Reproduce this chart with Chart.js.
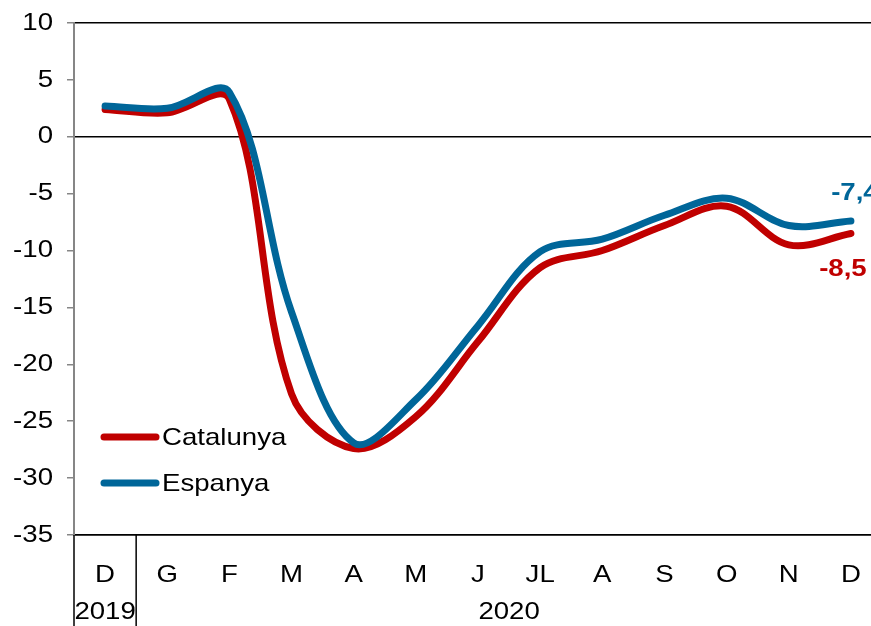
<!DOCTYPE html>
<html>
<head>
<meta charset="utf-8">
<script src="https://cdn.jsdelivr.net/npm/chart.js@4.4.1/dist/chart.umd.min.js"></script>
<style>
    html, body { margin: 0; padding: 0; background: #fff; overflow: hidden; }
    #wrap { width: 871px; height: 626px; overflow: hidden; }
</style>
</head>
<body>
<div id="wrap"><canvas id="chart" width="882" height="626"></canvas></div>
<script>
// categories: months, with the year row under them
var months = ["D", "G", "F", "M", "A", "M", "J", "JL", "A", "S", "O", "N", "D"];
var years = [
    {label: "2019", from: 0, to: 0},
    {label: "2020", from: 1, to: 12}
];

// series
var catalunya = [2.4, 2.1, 3.3, -22.6, -27.4, -24.6, -18.0, -11.5, -10.0, -7.8, -6.1, -9.5, -8.5];
var espanya = [2.7, 2.5, 3.9, -15.4, -26.9, -23.1, -16.6, -10.1, -9.0, -6.9, -5.4, -7.8, -7.4];

var yMin = -35, yMax = 10, yStep = 5;
var blackLines = [10, 0, -35];

var red = "#C00000";
var blue = "#006699";
var textStretch = 1.15; // the source text is a little wider than Arial

Chart.defaults.font.family = "'Liberation Sans', Arial, sans-serif";
Chart.defaults.font.size = 24;
Chart.defaults.color = "#000";

// widen every text drawn on the canvas around its anchor point
var wideText = {
    id: 'wideText',
    beforeInit: function (chart) {
        var c = chart.ctx;
        var orig = c.fillText.bind(c);
        c.fillText = function (text, x, y, maxWidth) {
            c.save();
            c.translate(x, y);
            c.scale(textStretch, 1);
            if (maxWidth !== undefined) {
                orig(text, 0, 0, maxWidth / textStretch);
            } else {
                orig(text, 0, 0);
            }
            c.restore();
        };
    }
};

// year row and separators under the month labels
var yearRow = {
    id: 'yearRow',
    afterDraw: function (chart) {
        var ctx = chart.ctx;
        var x = chart.scales.x;
        var area = chart.chartArea;
        var half = (x.getPixelForValue(1) - x.getPixelForValue(0)) / 2;
        ctx.save();
        ctx.strokeStyle = "#000";
        ctx.lineWidth = 1.5;
        ctx.fillStyle = "#000";
        ctx.font = "24px 'Liberation Sans', Arial, sans-serif";
        ctx.textAlign = "center";
        ctx.textBaseline = "middle";
        years.forEach(function (g) {
            var left = x.getPixelForValue(g.from) - half;
            var right = x.getPixelForValue(g.to) + half;
            ctx.beginPath();
            ctx.moveTo(left, area.bottom);
            ctx.lineTo(left, chart.height);
            ctx.stroke();
            ctx.fillText(g.label, (left + right) / 2, 612);
        });
        ctx.restore();
    }
};

// legend inside the plot, bottom left
var innerLegend = {
    id: 'innerLegend',
    afterDatasetsDraw: function (chart) {
        var ctx = chart.ctx;
        ctx.save();
        ctx.lineCap = "round";
        ctx.font = "24px 'Liberation Sans', Arial, sans-serif";
        ctx.textBaseline = "middle";
        ctx.fillStyle = "#000";
        chart.data.datasets.forEach(function (ds, i) {
            var y = 437 + i * 46;
            ctx.strokeStyle = ds.borderColor;
            ctx.lineWidth = 7;
            ctx.beginPath();
            ctx.moveTo(104, y);
            ctx.lineTo(156, y);
            ctx.stroke();
            ctx.fillText(ds.label, 162, y + 1);
        });
        ctx.restore();
    }
};

// value of the last month next to each line
var lastValue = {
    id: 'lastValue',
    afterDatasetsDraw: function (chart) {
        var ctx = chart.ctx;
        ctx.save();
        ctx.font = "bold 24px 'Liberation Sans', Arial, sans-serif";
        ctx.textAlign = "center";
        ctx.textBaseline = "middle";
        chart.data.datasets.forEach(function (ds, i) {
            var meta = chart.getDatasetMeta(i);
            var pt = meta.data[meta.data.length - 1];
            var v = ds.data[ds.data.length - 1];
            var text = v.toFixed(1).replace(".", ",");
            ctx.fillStyle = ds.borderColor;
            if (ds.label === "Espanya") {
                ctx.fillText(text, pt.x + 4, pt.y - 28);
            } else {
                ctx.fillText(text, pt.x - 8, pt.y + 36);
            }
        });
        ctx.restore();
    }
};

var ctx = document.getElementById("chart");
var chart = new Chart(ctx, {
    type: 'line',
    data: {
        labels: months,
        datasets: [
            {
                label: "Catalunya",
                data: catalunya,
                borderColor: red,
                backgroundColor: red,
                borderWidth: 7,
                pointRadius: 0,
                tension: 0.35,
                borderCapStyle: 'round',
                order: 1
            },
            {
                label: "Espanya",
                data: espanya,
                borderColor: blue,
                backgroundColor: blue,
                borderWidth: 7,
                pointRadius: 0,
                tension: 0.35,
                borderCapStyle: 'round',
                order: 0
            }
        ]
    },
    options: {
        responsive: false,
        animation: false,
        layout: {padding: {top: 23, right: 0, left: 0, bottom: 0}},
        plugins: {
            legend: {display: false},
            tooltip: {enabled: false}
        },
        scales: {
            x: {
                offset: true,
                grid: {display: false},
                border: {display: true, color: "#000", width: 1.5},
                ticks: {padding: 18, color: "#000", maxRotation: 0, autoSkip: false},
                afterFit: function (scale) {
                    scale.height = 91;
                    scale.paddingLeft = 0;
                    scale.paddingRight = 0;
                }
            },
            y: {
                min: yMin,
                max: yMax,
                ticks: {stepSize: yStep, padding: 14, color: "#000"},
                grid: {
                    color: function (c) {
                        return blackLines.indexOf(c.tick.value) >= 0 ? "#000" : "rgba(0,0,0,0)";
                    },
                    lineWidth: 1.5,
                    tickColor: "#868686",
                    tickLength: 7
                },
                border: {display: true, color: "#868686", width: 2},
                afterFit: function (scale) {
                    scale.width = 74;
                    scale.paddingTop = 0;
                    scale.paddingBottom = 0;
                }
            }
        }
    },
    plugins: [wideText, yearRow, innerLegend, lastValue]
});
</script>
</body>
</html>
